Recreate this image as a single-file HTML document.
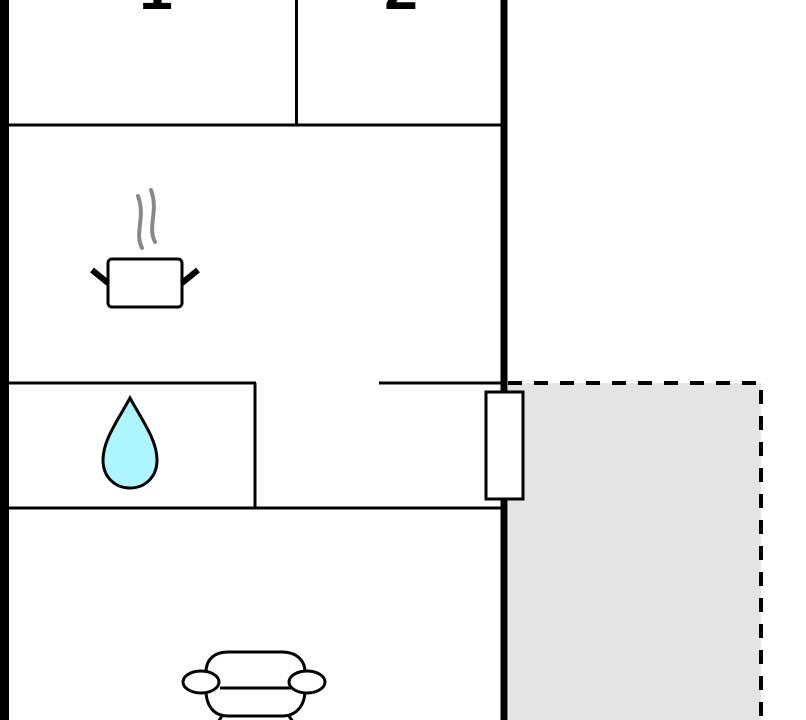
<!DOCTYPE html>
<html><head><style>html,body{margin:0;padding:0;background:#fff;width:806px;height:720px;overflow:hidden}
.n{font-family:"Liberation Sans",Arial,sans-serif;font-weight:bold;font-size:60px}</style></head>
<body>
<svg width="806" height="720" viewBox="0 0 806 720" xmlns="http://www.w3.org/2000/svg">
<rect x="0" y="0" width="806" height="720" fill="#fff"/>
<rect x="508" y="383" width="253" height="337" fill="#e4e4e4"/>
<path d="M508 383 H761 V720" fill="none" stroke="#000" stroke-width="4" stroke-dasharray="14 12"/>
<text class="n" x="156" y="9" text-anchor="middle">1</text>
<text class="n" x="401" y="9" text-anchor="middle">2</text>
<g stroke="#000" fill="none">
<line x1="4.5" y1="0" x2="4.5" y2="720" stroke-width="9"/>
<line x1="504" y1="0" x2="504" y2="720" stroke-width="7"/>
<line x1="9" y1="125" x2="501" y2="125" stroke-width="3"/>
<line x1="296.5" y1="0" x2="296.5" y2="125" stroke-width="3"/>
<line x1="9" y1="383" x2="256" y2="383" stroke-width="3"/>
<line x1="379" y1="383" x2="501" y2="383" stroke-width="3"/>
<line x1="255" y1="383" x2="255" y2="508" stroke-width="3"/>
<line x1="9" y1="508" x2="501" y2="508" stroke-width="3"/>
</g>
<rect x="486" y="392" width="37" height="107" fill="#fff" stroke="#000" stroke-width="3"/>
<path d="M142 248 C134 232,146 218,138 196 M155 242 C147 226,159 212,151 190" fill="none" stroke="#888" stroke-width="4" stroke-linecap="round"/>
<rect x="108" y="259" width="74" height="48" rx="4" fill="#fff" stroke="#000" stroke-width="3"/>
<line x1="92" y1="270" x2="108" y2="283" stroke="#000" stroke-width="6"/>
<line x1="198" y1="270" x2="182" y2="283" stroke="#000" stroke-width="6"/>
<path d="M130 398 C118 420,103 440,103 460 C103 477,115 488,130 488 C145 488,157 477,157 460 C157 440,142 420,130 398 Z" fill="#aef6ff" stroke="#000" stroke-width="3"/>
<g fill="#fff" stroke="#000" stroke-width="3">
<path d="M206 690 V672 C206 660,214 652,228 652 H282 C296 652,305 660,305 672 V690"/>
<path d="M206 690 C206 706,214 716,228 716 H282 C296 716,305 706,305 690"/>
<line x1="220" y1="688" x2="291" y2="688"/>
<path d="M222 716 L218 722 M289 716 L293 722"/>
<ellipse cx="201" cy="682" rx="18" ry="11"/>
<ellipse cx="307" cy="682" rx="18" ry="11"/>
</g>
</svg>
</body></html>
